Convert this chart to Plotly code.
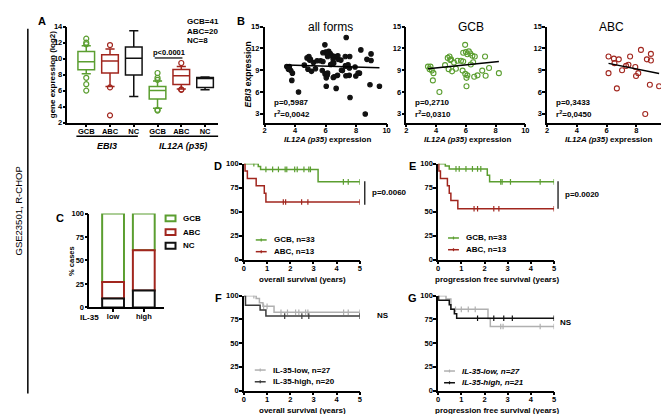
import numpy as np
import plotly.graph_objects as go

W, H = 669, 414
FONT = "Arial, Liberation Sans, Helvetica, sans-serif"
GREEN = "#5b9e30"
RED = "#a1261e"
BLACK = "#111111"
LGRAY = "#b0b0b0"
DGRAY = "#3a3a3a"

# ---------------- Panel A data (box summaries) ----------------
a_cats = ["GCB", "ABC", "NC", "GCB", "ABC", "NC"]
a_q1 = [8.6, 8.2, 7.95, 4.95, 6.75, 6.4]
a_med = [9.6, 9.7, 10.05, 6.0, 7.85, 7.55]
a_q3 = [10.9, 10.5, 11.45, 6.5, 8.65, 7.65]
a_lo = [8.1, 6.5, 5.25, 3.8, 6.2, 6.1]
a_hi = [11.6, 11.2, 13.5, 7.2, 9.0, 7.7]
a_out = [[12.5, 12.0, 11.8, 7.6, 6.8, 6.0], [11.7, 6.4, 2.9], [],
         [8.2, 7.6, 7.35, 3.6, 3.5], [9.45, 6.15, 6.1], []]
a_ticks = [2, 4, 6, 8, 10, 12, 14]

# ---------------- Panel B data (IL12A vs EBI3) ----------------
gcb_x = [3.45, 3.62, 3.56, 3.71, 3.82, 3.78, 4.22, 4.6, 4.78, 4.84, 4.9, 5.0, 5.07, 5.2,
         5.44, 5.67, 5.82, 5.78, 5.82, 5.95, 6.0, 6.1, 6.2, 6.3, 6.44, 6.33, 5.96, 6.1,
         6.04, 6.04, 6.56, 6.78, 7.1, 7.29, 7.33, 7.56, 8.22, 4.95, 5.33, 6.49, 6.6]
gcb_y = [9.5, 9.5, 9.15, 8.95, 8.6, 7.6, 6.0, 9.7, 10.7, 9.15, 10.9, 10.5, 8.85, 10.05,
         10.3, 10.3, 10.2, 8.95, 11.4, 12.5, 11.5, 11.2, 11.6, 11.3, 11.0, 9.8, 8.5, 8.3,
         7.95, 6.8, 8.1, 8.3, 8.95, 10.9, 8.25, 9.3, 8.6, 10.4, 9.2, 10.1, 10.9]
abc_x = [6.13, 6.49, 6.82, 6.53, 6.13, 6.69, 7.04, 7.31, 7.47, 7.58, 7.93, 7.98, 8.13,
         8.31, 8.71, 8.98, 8.98, 8.91, 9.53, 8.6]
abc_y = [10.9, 10.6, 10.5, 9.98, 8.6, 6.5, 9.0, 9.6, 9.75, 10.9, 9.45, 8.2, 8.6,
         11.8, 10.5, 11.25, 10.35, 7.0, 6.8, 2.98]
nc_x = [7.35, 7.6, 6.1, 6.5, 7.0, 7.3, 6.8, 7.55]
nc_y = [13.5, 5.25, 11.3, 8.0, 10.4, 9.6, 11.0, 8.3]
all_x = gcb_x + abc_x + nc_x
all_y = gcb_y + abc_y + nc_y
fit_slope = {"all": -0.067, "GCB": 0.21, "ABC": -0.41}
fit_icpt = {"all": 9.97, "GCB": 8.47, "ABC": 12.46}
b_stats = {"all": ("p=0,5987", "0,0042"), "GCB": ("p=0,2710", "0,0310"),
           "ABC": ("p=0,3433", "0,0450")}
b_xticks = [2, 4, 6, 8, 10]
b_yticks = [3, 6, 9, 12, 15]

# ---------------- Panel C data (% cases) ----------------
c_groups = ["low", "high"]
c_nc = [9.5, 18.0]
c_abc = [17.5, 43.0]
c_gcb = [73.0, 39.0]
c_ticks = [0, 25, 50, 75, 100]

# ---------------- Panels D-G data (Kaplan-Meier) ----------------
d_gcb_t = [0.62, 0.72, 3.2]; d_gcb_s = [97.0, 94.0, 81.0]
d_gcb_c = [0.43, 0.95, 1.24, 1.49, 1.78, 1.85, 2.19, 2.3, 2.59, 2.8, 2.87, 4.29, 4.5, 5.0]
d_abc_t = [0.05, 0.15, 0.53, 0.88, 0.95]; d_abc_s = [92.3, 84.6, 76.9, 69.2, 60.0]
d_abc_c = [1.7, 1.8, 2.49, 2.76, 5.0]

e_gcb_t = [0.31, 0.48, 2.12, 2.22]; e_gcb_s = [97.5, 94.5, 88.0, 81.0]
e_gcb_c = [0.77, 0.91, 1.2, 1.48, 1.7, 1.84, 2.7, 2.76, 3.12, 4.4, 5.0]
e_abc_t = [0.03, 0.1, 0.4, 0.48, 0.55, 0.85]; e_abc_s = [92.3, 84.6, 76.9, 69.2, 61.5, 53.0]
e_abc_c = [1.55, 1.7, 2.4, 2.62, 5.0]

f_low_t = [0.53, 0.67, 0.82, 1.3]; f_low_s = [97.0, 92.5, 88.8, 82.5]
f_low_c = [0.43, 0.85, 1.0, 1.6, 1.88, 2.23, 2.37, 2.66, 2.76, 4.3, 4.5, 5.0]
f_high_t = [0.07, 0.7, 0.95]; f_high_s = [90.0, 85.0, 78.5]
f_high_c = [1.76, 2.5, 2.8, 5.0]

g_low_t = [0.34, 0.55, 2.15, 2.25]; g_low_s = [96.5, 85.6, 76.0, 67.5]
g_low_c = [0.75, 1.0, 1.3, 1.6, 2.7, 2.8, 4.4, 5.0]
g_high_t = [0.02, 0.48, 0.55, 0.7, 0.8]; g_high_s = [95.2, 90.5, 85.7, 81.0, 76.2]
g_high_c = [1.7, 2.4, 2.83, 3.2, 5.0]
km_xticks = [0, 1, 2, 3, 4, 5]
km_yticks = [0, 25, 50, 75, 100]


def fx(p):
    return p / W


def fy(p):
    return 1 - p / H


fig = go.Figure()
annotations = []
shapes = []


def ann(text, px, py, size=8, bold=True, xanchor="center", angle=0, italic=False, color="black"):
    annotations.append(dict(
        text=text, x=fx(px), y=fy(py), xref="paper", yref="paper", showarrow=False,
        xanchor=xanchor, yanchor="middle", textangle=angle,
        font=dict(family=FONT, size=size, color=color, weight="bold" if bold else "normal",
                  style="italic" if italic else "normal")))


def pline(x0, y0, x1, y1, color="black", width=1.5):
    shapes.append(dict(type="line", xref="paper", yref="paper", x0=fx(x0), y0=fy(y0),
                       x1=fx(x1), y1=fy(y1), line=dict(color=color, width=width)))


def axis(dom, rng, tickvals, anchor, ticktext=None, ticklen=3, standoff=None):
    is_x = anchor.startswith("y")
    if standoff is None:
        standoff = -2 if is_x else -1
    d = dict(domain=[fx(dom[0]), fx(dom[1])] if is_x else [fy(dom[1]), fy(dom[0])],
             range=rng, tickvals=tickvals, anchor=anchor, showline=True, linecolor="black",
             linewidth=1.5, ticks="outside", ticklen=ticklen, tickwidth=1.5, tickcolor="black",
             showgrid=False, zeroline=False, fixedrange=True,
             ticklabelstandoff=standoff,
             tickfont=dict(family=FONT, size=7.5, color="black", weight="bold"))
    if ticktext is not None:
        d["ticktext"] = ticktext
    return d


layout_axes = {}
# panel geometry (pixels): x-domain, y-domain (top, bottom)
panels = {
    "A": (1, (58, 210), (15, 113)),
    "B1": (2, (257, 380), (15, 113)),
    "B2": (3, (400, 520), (15, 113)),
    "B3": (4, (542, 662), (15, 113)),
    "C": (5, (80, 155), (206, 302)),
    "D": (6, (236, 353), (155, 253)),
    "E": (7, (432, 549), (155, 253)),
    "F": (8, (236, 353), (290, 387)),
    "G": (9, (432, 549), (290, 387)),
}


def ax_names(n):
    return ("x" if n == 1 else f"x{n}"), ("y" if n == 1 else f"y{n}")


# ---------- Panel A ----------
n, xd, yd = panels["A"]
xn, yn = ax_names(n)
a_colors = [GREEN, RED, BLACK, GREEN, RED, BLACK]
pos = list(range(1, len(a_cats) + 1))
for i in range(len(a_cats)):
    fig.add_trace(go.Box(x=[pos[i]], q1=[a_q1[i]], median=[a_med[i]], q3=[a_q3[i]],
                         lowerfence=[a_lo[i]], upperfence=[a_hi[i]], width=0.7, whiskerwidth=0.55,
                         fillcolor="white", line=dict(color=a_colors[i], width=1.5),
                         boxpoints=False, xaxis=xn, yaxis=yn, hoverinfo="skip"))
    if a_out[i]:
        fig.add_trace(go.Scatter(x=[pos[i]] * len(a_out[i]), y=a_out[i], mode="markers",
                                 marker=dict(symbol="circle-open", size=5, color=a_colors[i],
                                             line=dict(width=1.2, color=a_colors[i])),
                                 xaxis=xn, yaxis=yn, hoverinfo="skip"))
layout_axes["xaxis"] = axis(xd, [0.21, 6.55], pos, yn, ticktext=a_cats)
layout_axes["yaxis"] = axis(yd, [2, 14], a_ticks, xn)

# ---------- Panel B ----------
b_sets = [("B1", "all", all_x, all_y, "circle", BLACK, "all forms"),
          ("B2", "GCB", gcb_x, gcb_y, "circle-open", GREEN, "GCB"),
          ("B3", "ABC", abc_x, abc_y, "circle-open", RED, "ABC")]
for key, grp, bx, by, sym, col, title in b_sets:
    n, xd, yd = panels[key]
    xn, yn = ax_names(n)
    fig.add_trace(go.Scatter(x=bx, y=by, mode="markers",
                             marker=dict(symbol=sym, size=4.5 if sym == "circle" else 5, color=col,
                                         line=dict(width=1.1, color=col)),
                             xaxis=xn, yaxis=yn, hoverinfo="skip"))
    lx = np.array([min(bx), max(bx)])
    fig.add_trace(go.Scatter(x=lx, y=fit_icpt[grp] + fit_slope[grp] * lx, mode="lines",
                             line=dict(color="black", width=1.5), xaxis=xn, yaxis=yn, hoverinfo="skip"))
    layout_axes["xaxis%d" % n] = axis(xd, [2, 10], b_xticks, yn, standoff=-3)
    layout_axes["yaxis%d" % n] = axis(yd, [1.8, 15], b_yticks, xn)
    cx = (xd[0] + xd[1]) / 2
    ann(title, cx + 5, 15, size=12, bold=False)
    ann(b_stats[grp][0], xd[0] + 7, 93, size=8, xanchor="left")
    ann("r<sup>2</sup>=" + b_stats[grp][1], xd[0] + 7, 104, size=8, xanchor="left")
    ann("<i>IL12A (p35)</i> expression", cx + 2, 130.5, size=8)

# ---------- Panel C ----------
n, xd, yd = panels["C"]
xn, yn = ax_names(n)
cpos = [1, 2]
nc_a = np.array(c_nc); abc_a = np.array(c_abc); gcb_a = np.array(c_gcb)
for vals, base, col in [(gcb_a, nc_a + abc_a, GREEN), (abc_a, nc_a, RED), (nc_a, np.zeros(2), BLACK)]:
    fig.add_trace(go.Bar(x=cpos, y=vals, base=base, width=0.71,
                         marker=dict(color="white", line=dict(color=col, width=2)),
                         xaxis=xn, yaxis=yn, hoverinfo="skip"))
layout_axes["xaxis5"] = axis(xd, [0.226, 2.645], cpos, yn, ticktext=c_groups)
layout_axes["yaxis5"] = axis(yd, [0, 100], c_ticks, xn)


# ---------- Panels D-G ----------
def surv_at(times, surv, t):
    idx = int(np.searchsorted(times, t, side="right"))
    return 100.0 if idx == 0 else surv[idx - 1]


def km(key, t, s, c, col):
    n = panels[key][0]
    xn, yn = ax_names(n)
    x = [0.0] + list(t) + [5.0]
    y = [100.0] + list(s) + [s[-1]]
    fig.add_trace(go.Scatter(x=x, y=y, mode="lines", line=dict(shape="hv", color=col, width=1.5),
                             xaxis=xn, yaxis=yn, hoverinfo="skip"))
    fig.add_trace(go.Scatter(x=c, y=[surv_at(t, s, ci) for ci in c], mode="markers",
                             marker=dict(symbol="line-ns-open", size=4, color=col,
                                         line=dict(width=1.2, color=col)),
                             xaxis=xn, yaxis=yn, hoverinfo="skip"))


km("D", d_gcb_t, d_gcb_s, d_gcb_c, GREEN)
km("D", d_abc_t, d_abc_s, d_abc_c, RED)
km("E", e_gcb_t, e_gcb_s, e_gcb_c, GREEN)
km("E", e_abc_t, e_abc_s, e_abc_c, RED)
km("F", f_low_t, f_low_s, f_low_c, LGRAY)
km("F", f_high_t, f_high_s, f_high_c, DGRAY)
km("G", g_low_t, g_low_s, g_low_c, LGRAY)
km("G", g_high_t, g_high_s, g_high_c, BLACK)

for key in ["D", "E", "F", "G"]:
    n, xd, yd = panels[key]
    xn, yn = ax_names(n)
    layout_axes["xaxis%d" % n] = axis(xd, [0, 5], km_xticks, yn)
    layout_axes["yaxis%d" % n] = axis(yd, [0, 100], km_yticks, xn)

# ---------------- Text / decorations ----------------
ann("GSE23501, R-CHOP", 9, 203, size=9.5, bold=False, angle=-90)
pline(18, 17, 18, 390, width=1.5)

for letter, px_, py_ in [("A", 32, 9), ("B", 233, 9), ("C", 50, 211), ("D", 210, 157),
                         ("E", 406, 157), ("F", 210, 292), ("G", 406, 292)]:
    ann(letter, px_, py_, size=11)

# Panel A texts
ann("gene expression (log2)", 43, 64, size=8, angle=-90)
pline(67, 127, 129, 127)
pline(141, 127, 210, 127)
ann("<i>EBI3</i>", 98, 137, size=9)
ann("<i>IL12A (p35)</i>", 175, 137, size=9)
ann("p&lt;0.0001", 160, 41, size=7.5)
pline(146, 47, 174, 47, width=1.2)
ann("GCB=41", 177, 10, size=8, xanchor="left")
ann("ABC=20", 177, 20, size=8, xanchor="left")
ann("NC=8", 177, 29, size=8, xanchor="left")

# Panel B y title
ann("<i>EBI3</i> expression", 240, 64, size=8.5, angle=-90)

# Panel C texts
ann("% cases", 62, 254, size=7.5, angle=-90)
ann("IL-35", 80, 312, size=8)
for i, (lab, col) in enumerate([("GCB", GREEN), ("ABC", RED), ("NC", BLACK)]):
    yy = 211 + 14 * i
    shapes.append(dict(type="rect", xref="paper", yref="paper", x0=fx(157), x1=fx(167),
                       y0=fy(yy + 3), y1=fy(yy - 3), line=dict(color=col, width=2),
                       fillcolor="white"))
    ann(lab, 173, yy, size=8, xanchor="left")


def km_legend(x0, y0, labels, colors, italic=False):
    for i, (lab, col) in enumerate(zip(labels, colors)):
        yy = y0 + 12 * i
        pline(x0, yy, x0 + 11, yy, color=col, width=1.5)
        pline(x0 + 5.5, yy - 1.5, x0 + 5.5, yy + 1.5, color=col, width=1.2)
        ann(lab, x0 + 16, yy, size=8, xanchor="left", italic=italic)


km_legend(248, 233, ["GCB, n=33", "ABC, n=13"], [GREEN, RED])
km_legend(442, 231, ["GCB, n=33", "ABC, n=13"], [GREEN, RED])
km_legend(247, 366, ["IL-35-low, n=27", "IL-35-high, n=20"], [LGRAY, DGRAY])
km_legend(438, 367, ["IL-35-low, n=27", "IL-35-high, n=21"], [LGRAY, BLACK], italic=True)

pline(358, 173, 358, 197, width=1.2)
ann("p=0.0060", 363, 184, size=8, xanchor="left")
pline(553, 173, 553, 201, width=1.2)
ann("p=0.0020", 558, 187, size=8, xanchor="left")
ann("NS", 368, 310, size=8, xanchor="left")
ann("NS", 553, 317, size=8, xanchor="left")

ann("overall survival (years)", 295, 273, size=8)
ann("progression free survival (years)", 491, 273, size=8)
ann("overall survival (years)", 295, 407, size=8)
ann("progression free survival (years)", 491, 407, size=8)

fig.update_layout(width=W, height=H, autosize=False, margin=dict(l=0, r=0, t=0, b=0),
                  paper_bgcolor="white", plot_bgcolor="white", showlegend=False,
                  boxmode="overlay", barmode="overlay", annotations=annotations, shapes=shapes,
                  font=dict(family=FONT, color="black"), **layout_axes)
fig.write_html("out.html")
